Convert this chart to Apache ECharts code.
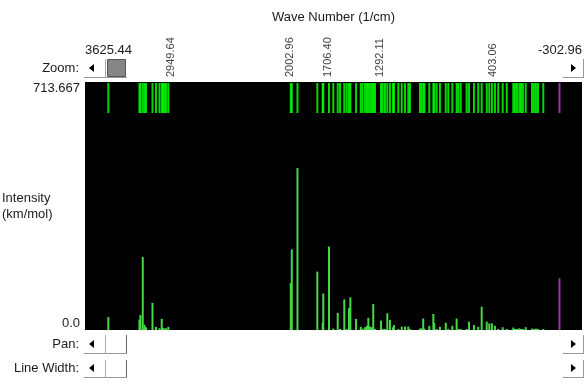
<!DOCTYPE html>
<html><head><meta charset="utf-8">
<script src="https://cdn.jsdelivr.net/npm/echarts@6/dist/echarts.min.js"></script>
<style>html,body{margin:0;padding:0;background:#fff}#c{width:584px;height:385px}</style>
</head><body><div id="c"></div>
<script>
// Peak positions (wave number, 1/cm) and intensities (km/mol)
const wavenumbers = [3441, 3195, 3187, 3169, 3155, 3143, 3092, 3064, 3037, 3019, 3009, 2997, 2985, 2967,
  1999, 1991, 1946, 1789, 1747, 1742, 1697, 1663, 1628, 1610, 1576, 1557, 1539, 1528, 1483, 1446, 1432,
  1412, 1397, 1386, 1373, 1357, 1347, 1333, 1286, 1272, 1254, 1236, 1215, 1191, 1183, 1149, 1122, 1096,
  1070, 1057, 978, 966, 952, 942, 904, 872, 865, 846, 820, 774, 754, 722, 688, 675, 656, 609, 590, 551,
  517, 490, 450, 430, 409, 385, 359, 324, 292, 240, 227, 211, 193, 179, 164, 142, 92, 77, 61, 45, 3];
const intensities = [37, 30, 43, 210, 15, 8, 78, 9, 5, 32, 6, 4, 5, 9,
  135, 232, 466, 168, 20, 105, 240, 4, 49, 3, 88, 3, 63, 94, 32, 9, 4,
  8, 12, 35, 10, 8, 75, 3, 27, 3, 3, 48, 29, 8, 14, 3, 10, 10,
  10, 3, 4, 5, 33, 4, 12, 46, 20, 3, 9, 21, 3, 12, 33, 3, 3, 3, 24, 14,
  9, 67, 24, 19, 19, 12, 3, 8, 3, 7, 3, 3, 5, 3, 3, 8, 4, 3, 4, 3, 3];
// Highlighted (purple) peak
const markedWavenumbers = [-125];
const markedIntensities = [149];
// Tick labels
const axisEndLabels = ['3625.44', '-302.96'];
const peakTickLabels = ['2949.64', '2002.96', '1706.40', '1292.11', '403.06'];
const intensityTickLabels = ['0.0', '713.667'];

const xMax = parseFloat(axisEndLabels[0]);
const xMin = parseFloat(axisEndLabels[1]);
const yMax = parseFloat(intensityTickLabels[1]);
const peakTickValues = peakTickLabels.map(Number);

const mainData = wavenumbers.map((w, i) => [w, intensities[i]]);
const markedData = markedWavenumbers.map((w, i) => [w, markedIntensities[i]]);
const stripData = wavenumbers.map(w => [w, 1]);
const markedStrip = markedWavenumbers.map(w => [w, 1]);

const FONT = 'Liberation Sans';
const TXT = '#1a1a1a';

function nearestLabel(v, vals, labels) {
  let bi = 0, bd = Infinity;
  vals.forEach((x, i) => { const d = Math.abs(x - v); if (d < bd) { bd = d; bi = i; } });
  return labels[bi];
}

function row(label, cy, top, bottom, isZoom) {
  const els = [
    { type: 'text', x: 79, y: cy, style: { text: label, fill: TXT, font: '13px ' + FONT, textAlign: 'right', textVerticalAlign: 'middle' } },
    { type: 'polygon', shape: { points: [[89, cy], [94, cy - 4], [94, cy + 4]] }, style: { fill: '#000' } },
    { type: 'line', shape: { x1: 105.5, y1: top, x2: 105.5, y2: bottom }, style: { stroke: '#aaa', lineWidth: 1 } },
    { type: 'line', shape: { x1: 84, y1: bottom + 0.5, x2: 127, y2: bottom + 0.5 }, style: { stroke: '#999', lineWidth: 1 } },
    { type: 'polygon', shape: { points: [[576, cy], [571, cy - 4], [571, cy + 4]] }, style: { fill: '#000' } },
    { type: 'line', shape: { x1: 563, y1: bottom + 0.5, x2: 584, y2: bottom + 0.5 }, style: { stroke: '#999', lineWidth: 1 } },
    { type: 'line', shape: { x1: 583.5, y1: top, x2: 583.5, y2: bottom }, style: { stroke: '#999', lineWidth: 1 } }
  ];
  if (isZoom) {
    els.push({ type: 'rect', shape: { x: 107.5, y: top + 0.5, width: 18, height: bottom - top - 1 }, style: { fill: '#858585', stroke: '#555', lineWidth: 1 } });
  } else {
    els.push({ type: 'line', shape: { x1: 126.5, y1: top, x2: 126.5, y2: bottom }, style: { stroke: '#666', lineWidth: 1 } });
  }
  return els;
}

const chart = echarts.init(document.getElementById('c'));
chart.setOption({
  animation: false,
  backgroundColor: '#fff',
  textStyle: { fontFamily: FONT },
  grid: [
    { left: 85, right: 2, top: 82, height: 248, show: true, backgroundColor: '#000', borderWidth: 0,
      containLabel: false, outerBoundsMode: 'none' },
    { left: 85, right: 2, top: 83, height: 30, containLabel: false, outerBoundsMode: 'none' }
  ],
  xAxis: [
    { gridIndex: 0, type: 'value', min: xMin, max: xMax, inverse: true, position: 'top',
      axisLine: { show: false }, axisTick: { show: false }, splitLine: { show: false },
      name: 'Wave Number (1/cm)', nameLocation: 'middle', nameGap: 58, nameMoveOverlap: false,
      nameTextStyle: { color: TXT, fontSize: 13, fontFamily: FONT },
      axisLabel: { customValues: [xMax, xMin], margin: 25, fontSize: 13, color: TXT, fontFamily: FONT,
        alignMinLabel: 'left', alignMaxLabel: 'right',
        formatter: v => nearestLabel(v, [xMax, xMin], axisEndLabels) } },
    { gridIndex: 0, type: 'value', min: xMin, max: xMax, inverse: true, position: 'top',
      axisLine: { show: false }, axisTick: { show: false }, splitLine: { show: false },
      axisLabel: { customValues: peakTickValues, rotate: -90, margin: 5, fontSize: 11, color: '#444', fontFamily: FONT,
        formatter: v => nearestLabel(v, peakTickValues, peakTickLabels) } },
    { gridIndex: 1, type: 'value', min: xMin, max: xMax, inverse: true, show: false }
  ],
  yAxis: [
    { gridIndex: 0, type: 'value', min: 0, max: yMax, interval: yMax,
      axisLine: { show: false }, axisTick: { show: false }, splitLine: { show: false },
      axisLabel: { margin: 5, fontSize: 13, color: TXT, fontFamily: FONT,
        verticalAlignMaxLabel: 'top', verticalAlignMinLabel: 'bottom',
        formatter: v => nearestLabel(v, [0, yMax], intensityTickLabels) },
      name: 'Intensity\n(km/mol)', nameLocation: 'middle', nameRotate: 0, nameGap: 83, nameMoveOverlap: false,
      nameTextStyle: { color: TXT, fontSize: 13, fontFamily: FONT, align: 'left', lineHeight: 16 } },
    { gridIndex: 1, type: 'value', min: 0, max: 1, show: false }
  ],
  series: [
    { type: 'bar', xAxisIndex: 2, yAxisIndex: 1, data: stripData, barWidth: 2, barGap: '-100%',
      itemStyle: { color: '#00ff00', opacity: 0.85 }, silent: true },
    { type: 'bar', xAxisIndex: 2, yAxisIndex: 1, data: markedStrip, barWidth: 2, barGap: '-100%',
      itemStyle: { color: '#a030b0' }, silent: true },
    { type: 'bar', xAxisIndex: 0, yAxisIndex: 0, data: mainData, barWidth: 2, barGap: '-100%',
      itemStyle: { color: '#46d846' }, silent: true },
    { type: 'bar', xAxisIndex: 0, yAxisIndex: 0, data: markedData, barWidth: 2, barGap: '-100%',
      itemStyle: { color: '#a030b0' }, silent: true }
  ],
  graphic: [].concat(
    row('Zoom:', 68, 59, 77, true),
    row('Pan:', 344, 335, 353, false),
    row('Line Width:', 368, 360, 377, false)
  )
});
</script>
</body></html>
